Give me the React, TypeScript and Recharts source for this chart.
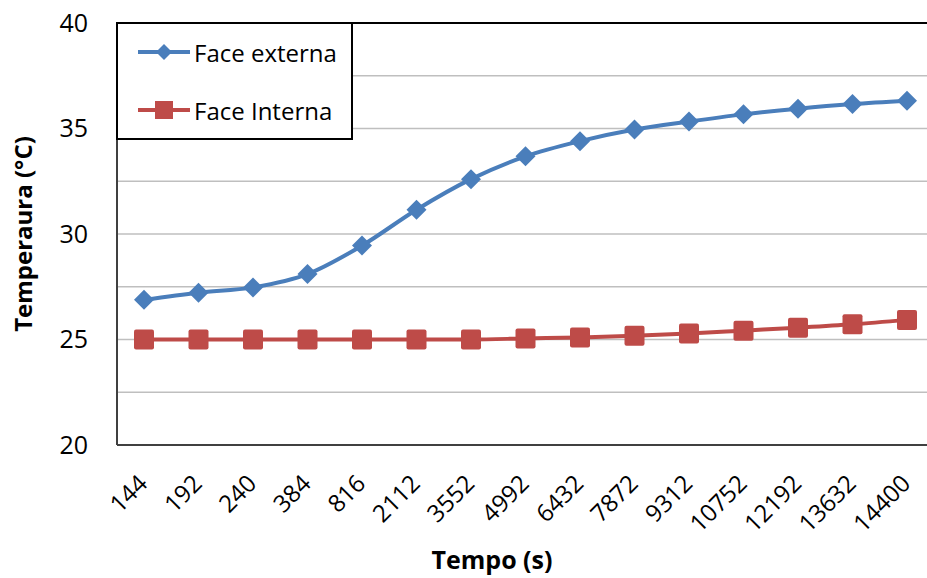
import React from 'react';
import { LineChart, Line, XAxis, YAxis, CartesianGrid, ReferenceLine, Label } from 'recharts';

// ── Data ─────────────────────────────────────────────────────────────────────
const tempos = ['144', '192', '240', '384', '816', '2112', '3552', '4992', '6432', '7872', '9312', '10752', '12192', '13632', '14400'];
const faceExterna = [26.88, 27.22, 27.47, 28.1, 29.45, 31.15, 32.6, 33.68, 34.4, 34.95, 35.33, 35.67, 35.94, 36.16, 36.32];
const faceInterna = [25.0, 25.0, 25.0, 25.0, 25.0, 25.0, 25.0, 25.05, 25.1, 25.18, 25.28, 25.42, 25.56, 25.72, 25.93];
const yTicks = [20, 22.5, 25, 27.5, 30, 32.5, 35, 37.5, 40];

const BLUE = '#4A7EBB';
const RED = '#BE4B48';
const FONT = '"Open Sans", "Liberation Sans", sans-serif';

const data = tempos.map((t, i) => ({ tempo: t, externa: faceExterna[i], interna: faceInterna[i] }));

// ── Markers ──────────────────────────────────────────────────────────────────
const Diamond = (props: any) => {
  const { cx, cy } = props;
  if (cx == null || cy == null) return null;
  const r = 10;
  return <polygon points={`${cx},${cy - r} ${cx + r},${cy} ${cx},${cy + r} ${cx - r},${cy}`} fill={BLUE} />;
};

const Square = (props: any) => {
  const { cx, cy } = props;
  if (cx == null || cy == null) return null;
  const s = 10;
  return <rect x={cx - s} y={cy - s} width={s * 2} height={s * 2} rx={2} fill={RED} />;
};

const XTick = (props: any) => {
  const { x, y, payload } = props;
  return (
    <g transform={`translate(${x + 5},${y + 38})`}>
      <text textAnchor="end" transform="rotate(-45)" fontSize={24} fill="#000" fontFamily={FONT}>
        {payload.value}
      </text>
    </g>
  );
};

const LegendBox = () => {
  const items = [
    { name: 'Face externa', color: BLUE, shape: 'diamond' },
    { name: 'Face Interna', color: RED, shape: 'square' },
  ];
  return (
    <div style={{ position: 'absolute', left: 116, top: 22, width: 237, height: 118, border: '2px solid #000', background: '#fff', boxSizing: 'border-box', fontFamily: FONT }}>
      {items.map((it, i) => (
        <div key={it.name} style={{ position: 'absolute', left: 18, top: 12 + i * 58, display: 'flex', alignItems: 'center', height: 32 }}>
          <svg width={56} height={24}>
            <line x1={2} y1={12} x2={54} y2={12} stroke={it.color} strokeWidth={4} />
            {it.shape === 'diamond'
              ? <polygon points="28,4 36,12 28,20 20,12" fill={it.color} />
              : <rect x={19} y={3} width={18} height={18} fill={it.color} />}
          </svg>
          <span style={{ fontSize: 24, marginLeft: 2, color: '#000' }}>{it.name}</span>
        </div>
      ))}
    </div>
  );
};

export default function App() {
  return (
    <div style={{ position: 'fixed', left: 0, top: 0, width: 927, height: 578, overflow: 'hidden', background: '#fff' }}>
      <LineChart width={940} height={578} data={data} margin={{ top: 23, right: 6, bottom: 0, left: 7 }}>
        <CartesianGrid vertical={false} stroke="#BFBFBF" strokeWidth={1.5} />
        <XAxis
          dataKey="tempo"
          height={133}
          tick={<XTick />}
          tickLine={false}
          tickSize={0}
          interval={0}
          padding={{ left: 27, right: 27 }}
          axisLine={{ stroke: '#404040', strokeWidth: 2 }}
        >
          <Label
            content={() => (
              <text x={492} y={569} textAnchor="middle" fontSize={25} fontWeight="bold" fill="#000" fontFamily={FONT}>
                Tempo (s)
              </text>
            )}
          />
        </XAxis>
        <YAxis
          width={110}
          domain={[20, 40]}
          ticks={yTicks}
          interval={0}
          tickLine={false}
          tickSize={0}
          tickMargin={29}
          tickFormatter={(v: number) => (v % 5 === 0 ? String(v) : '')}
          tick={{ fontSize: 25, fill: '#000', fontFamily: FONT }}
          axisLine={{ stroke: '#404040', strokeWidth: 2 }}
        >
          <Label value="Temperaura (°C)" angle={-90} position="insideLeft" offset={16} style={{ fontSize: 24, fontWeight: 'bold', fill: '#000', fontFamily: FONT, textAnchor: 'middle' }} />
        </YAxis>
        <ReferenceLine y={40} stroke="#000" strokeWidth={2} />
        <Line type="monotone" dataKey="externa" name="Face externa" stroke={BLUE} strokeWidth={4} dot={<Diamond />} isAnimationActive={false} />
        <Line type="monotone" dataKey="interna" name="Face Interna" stroke={RED} strokeWidth={4} dot={<Square />} isAnimationActive={false} />
      </LineChart>
      <LegendBox />
    </div>
  );
}
